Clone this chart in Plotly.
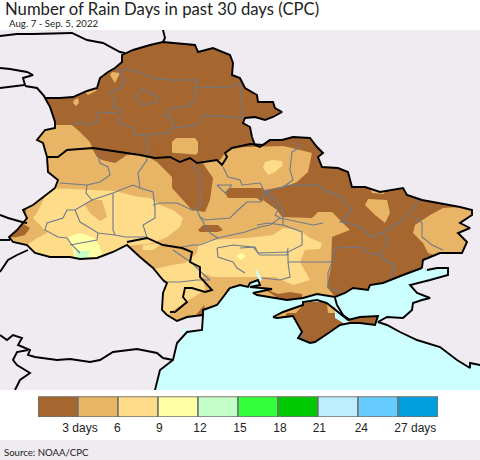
import plotly.graph_objects as go

TITLE = "Number of Rain Days in past 30 days (CPC)"
SUBTITLE = "Aug. 7 - Sep. 5, 2022"
SOURCE = "Source: NOAA/CPC"

# legend classes
class_starts = [0, 3, 6, 9, 12, 15, 18, 21, 24, 27]
class_colors = ["#A5662F", "#E8B465", "#FFDC8A", "#FFFFA5", "#C4FFC9",
                "#30FF3A", "#00C800", "#BDEEFF", "#66CCFF", "#009FE0"]
tick_days = [3.15, 5.95, 9.1, 12.15, 15.15, 18.15, 21.1, 24.25, 28.3]
tick_labels = ["3 days", "6", "9", "12", "15", "18", "21", "24", "27 days"]

LAND = "#EFEBF0"
SEA = "#CCFFFF"
BORDER = "#000000"
OBLAST = "#6E7B8B"

# geography, in map-grid units
romania_coast = [(155,390),(157,383),(160,370),(173,360),(177,343),(187,332),(202,330),(203,315)]
ukraine_coast = [(203,310),(217,305),(225,295),(230,288),(240,285),(248,287),(250,283),(258,280),(260,285),
                 (250,287),(272,289),(253,293),(257,295),(273,298),(287,300),(303,298),(317,294),(335,297),
                 (345,293),(353,288),(368,290),(370,285),(383,283),(403,275),(422,268)]
russia_coast = [(427,270),(437,268),(448,268),(448,275),(430,280),(410,285),(417,293),(430,298),(422,300),
                (413,303),(412,310),(403,318),(387,317),(378,322),(387,325),(400,332),(417,340),(440,347),
                (457,360),(470,368),(470,363),(480,365)]
land_border = [(203,315),(187,317),(177,321),(167,315),(162,310),(163,293),(167,283),(163,280),(153,268),(140,257),
               (127,245),(113,252),(97,258),(80,259),(70,257),(50,257),(35,253),(27,245),(13,242),(9,237),(17,230),
               (27,218),(23,210),(33,205),(55,188),(58,180),(48,172),(47,157),(43,143),(37,140),(45,130),(55,128),
               (55,122),(50,107),(45,98),(60,98),(73,97),(87,91),(97,88),(100,78),(108,72),(115,68),(122,62),
               (122,55),(133,50),(150,45),(163,42),(177,43),(195,45),(198,52),(213,48),(230,55),(233,63),(232,75),
               (240,78),(245,88),(257,95),(258,102),(273,102),(275,108),(282,112),(273,117),(265,120),(255,117),
               (245,118),(243,123),(250,127),(252,137),(255,145),(260,147),(270,140),(282,140),(293,137),(310,138),
               (317,147),(323,153),(318,157),(322,167),(338,168),(348,172),(352,187),(365,187),(380,192),(403,188),
               (407,195),(422,200),(440,203),(460,207),(472,210),(472,215),(460,223),(470,228),(458,233),(467,242),
               (462,253),(440,253),(423,260),(422,268)]
crimea = [(273,317),(283,312),(303,305),(303,302),(317,300),(327,303),(338,312),(348,320),(360,317),(378,316),
          (375,325),(360,323),(350,323),(340,325),(330,332),(315,342),(310,343),(298,338),(302,332),(296,322),
          (293,316),(277,318)]
arabat = [(335,298),(337,305),(343,315),(350,320)]

inner_black = [
    [(47,157),(58,157),(67,150),(93,148),(113,151),(140,155),(155,158),(170,157),(180,162),(190,158),(197,163),
     (217,160),(222,165),(227,157),(225,153),(232,148),(250,144),(263,145),(270,140)],
    [(127,242),(147,238),(163,245),(182,248),(192,252),(190,262),(200,267),(200,277),(212,290),(205,292),
     (192,288),(185,288),(183,297),(187,302),(175,312),(170,312)],
]
outer_black = [
    [(0,36),(17,34),(33,34),(57,33),(72,33),(87,40),(103,43),(120,52),(125,53)],
    [(163,30),(165,38),(163,42)],
    [(0,68),(10,69),(27,72),(33,75),(23,78),(25,85),(0,88)],
    [(25,86),(37,88),(45,97)],
    [(0,215),(8,218),(22,222),(27,223)],
    [(0,240),(10,240)],
    [(28,250),(17,255),(8,260),(0,272)],
    [(0,335),(7,340),(13,335),(22,338),(18,345),(30,350),(28,355),(35,357),(57,360),(70,359),(90,362),(100,360),
     (113,352),(137,349),(157,353),(163,358),(173,360)],
    [(28,350),(17,352),(13,360),(17,365),(30,373),(20,380),(15,390)],
]

oblast_lines = [
    [(117,70),(133,70),(153,78),(167,80),(197,80),(195,88),(213,87),(230,87),(240,83),(243,118)],
    [(117,70),(125,80),(120,88),(110,93),(115,100),(113,107),(122,110),(118,123),(133,128),(135,135),(143,135),
     (148,143),(147,155),(147,160),(138,173),(140,188)],
    [(98,112),(117,113)],
    [(98,112),(97,122),(90,125),(80,122),(72,125)],
    [(143,135),(167,133),(173,128),(197,125),(203,115),(227,117),(243,118)],
    [(135,98),(143,89),(150,93),(157,97),(157,102),(143,105),(135,98)],
    [(195,88),(195,100),(187,107),(170,108),(168,115),(162,115)],
    [(168,115),(173,122),(173,128)],
    [(98,155),(100,163),(108,167),(110,175),(100,182),(87,185),(60,183)],
    [(87,185),(86,193),(92,200),(75,210),(67,210),(63,218),(47,223),(45,230),(58,237),(67,238),(72,245),(80,253)],
    [(92,200),(113,193),(133,185),(140,188),(153,192),(155,207),(155,218),(143,225),(147,237)],
    [(113,193),(113,230),(115,235)],
    [(75,210),(80,222),(90,228),(98,233),(115,235),(125,237),(147,237)],
    [(98,233),(97,240),(70,245)],
    [(153,205),(160,203),(177,203),(192,210),(197,210),(202,202),(200,190),(200,173),(193,165)],
    [(197,210),(200,217),(205,220),(230,218),(238,210),(247,202),(260,202),(265,192)],
    [(200,217),(210,233),(218,238),(200,245),(193,245),(182,247)],
    [(218,238),(245,232),(260,227),(270,225),(280,218),(290,220),(313,225),(323,223)],
    [(280,218),(275,215),(278,210),(265,192)],
    [(265,192),(290,185),(317,185),(330,193)],
    [(223,167),(228,177),(240,180),(242,185),(260,183),(265,192)],
    [(298,142),(300,147),(292,152),(290,170),(293,180),(283,187)],
    [(217,185),(232,185),(225,193),(217,185)],
    [(265,190),(277,200),(283,212),(283,225),(268,223),(257,225)],
    [(325,190),(340,197),(352,210),(340,222),(357,225),(372,237),(383,232),(403,220),(415,207),(417,200)],
    [(283,225),(302,232),(302,245),(288,252),(288,262),(290,277),(280,280),(262,278)],
    [(288,252),(258,253),(255,247),(240,248)],
    [(288,262),(332,262),(335,248),(360,247),(368,253),(380,255),(387,262),(395,265),(390,277)],
    [(332,262),(328,273),(328,287),(340,292)],
    [(383,232),(388,243),(380,255)],
    [(415,217),(422,223),(422,237),(432,245),(443,250)],
    [(217,248),(218,257),(233,262),(237,268),(245,273)],
    [(217,248),(233,245),(253,247),(260,255),(287,255),(288,248)],
    [(173,250),(192,263),(202,273),(210,280)],
    [(163,282),(180,282),(197,280),(210,280)],
    [(303,333),(301,338),(306,340)],
]

tan_areas = [
    [(30,120),(55,125),(72,125),(80,132),(90,142),(93,150),(97,157),(102,160),(115,163),(127,155),(140,155),
     (150,158),(200,161),(220,160),(225,153),(232,148),(247,147),(283,146),(292,148),(312,153),(308,172),
     (297,182),(290,185),(265,190),(263,200),(277,210),(282,217),(312,218),(318,212),(332,212),(350,230),
     (332,237),(331,267),(327,287),(335,297),(345,305),(340,330),(100,335),(0,270),(0,200)],
    [(112,72),(120,73),(115,83),(110,75)],
    [(74,100),(78,98),(79,103),(76,106),(73,103)],
    [(85,92),(97,87),(96,91),(88,95)],
    [(172,142),(176,138),(195,138),(198,142),(198,152),(195,157),(175,158),(172,152)],
    [(365,205),(368,199),(387,200),(390,213),(385,223),(375,215)],
    [(443,208),(430,215),(415,225),(413,233),(423,243),(428,253),(443,258),(490,258),(490,205)],
    [(370,189),(385,189),(384,194),(372,193)],
]
light_areas = [
    [(48,188),(87,190),(115,191),(138,197),(150,198),(160,205),(173,210),(183,218),(180,227),(167,237),(153,243),
     (127,246),(113,260),(25,262),(27,245),(37,238),(47,233),(45,230),(33,218),(37,213),(45,197)],
    [(198,245),(210,240),(247,238),(273,235),(283,228),(300,230),(310,238),(322,243),(320,249),(305,250),(300,262),
     (310,280),(293,285),(275,277),(257,277),(240,277),(213,277),(202,273),(205,290),(173,310),(165,318),(150,320),
     (140,290),(150,270),(172,265),(185,263),(197,253)],
    [(263,168),(265,162),(272,160),(282,161),(283,165),(275,172),(268,175)],
    [(143,245),(163,243),(153,250),(143,250)],
]
pale_areas = [
    [(68,237),(80,233),(95,238),(100,247),(105,262),(75,262),(73,250)],
    [(236,256),(241,253),(246,256),(241,260)],
]
green_areas = [[(75,248),(80,251),(90,251),(85,262),(78,262)]]
tan_over = [[(85,205),(93,200),(102,200),(107,217),(100,221),(90,213)]]
brown_over = [
    [(140,150),(150,158),(157,162),(172,177),(172,188),(183,200),(192,210),(205,212),(210,200),(213,178),(202,162),
     (200,155)],
    [(230,188),(262,188),(266,192),(262,202),(257,198),(228,198),(225,193)],
    [(198,230),(203,225),(218,225),(223,230),(218,232),(200,232)],
    [(15,232),(22,223),(30,228),(25,235),(17,237),(5,238)],
    [(20,208),(27,207),(25,215),(20,216)],
    [(262,288),(275,296),(277,300),(302,302),(302,294),(290,292),(278,294),(270,291)],
    [(222,298),(228,288),(235,286),(228,296)],
    [(196,315),(204,305),(207,318),(200,318)],
]
crimea_tan = [
    [(273,317),(283,312),(303,305),(296,313),(287,313),(285,316),(277,318)],
    [(327,305),(335,307),(340,315),(335,313),(328,313)],
]
cyan_areas = [
    [(303,298),(316,294),(322,298),(335,297),(338,303),(330,306),(325,302),(310,302),(303,303)],
    [(335,310),(345,318),(350,321),(345,324),(335,318)],
    [(255,269),(258,272),(262,280),(259,282)],
    [(181,333),(186,327),(188,331),(184,335)],
]


def chain(paths):
    xs, ys = [], []
    for path in paths:
        xs += [p[0] for p in path] + [None]
        ys += [p[1] for p in path] + [None]
    return xs, ys


fig = go.Figure()


def area(paths, color):
    xs, ys = chain(paths)
    fig.add_trace(go.Scatter(x=xs, y=ys, mode="lines", fill="toself", fillcolor=color,
                             line=dict(width=0, color=color), hoverinfo="skip", showlegend=False))


def lines(paths, color, width):
    xs, ys = chain(paths)
    fig.add_trace(go.Scatter(x=xs, y=ys, mode="lines", line=dict(width=width, color=color),
                             hoverinfo="skip", showlegend=False))


# rain-day classes, painted in order over a 3-day background
area(tan_areas, class_colors[1])
area(light_areas, class_colors[2])
area(pale_areas, class_colors[3])
area(green_areas, class_colors[4])
area(tan_over, class_colors[1])
area(brown_over, class_colors[0])

# surroundings
corners_land = [(0,30),(480,30)]
corners_sea = [(480,390)]
land_shape = corners_land + russia_coast[::-1] + land_border[::-1] + romania_coast[::-1] + [(0,390)]
sea_shape = romania_coast + ukraine_coast + russia_coast + corners_sea
area([land_shape], LAND)
area([sea_shape], SEA)

# Crimea
area([crimea], class_colors[0])
area(crimea_tan, class_colors[1])
area(cyan_areas, SEA)

lines(oblast_lines, OBLAST, 1.1)
lines(outer_black + inner_black + [land_border], BORDER, 1.9)
lines([romania_coast + ukraine_coast, russia_coast, crimea + crimea[:1], arabat], BORDER, 1.9)

# legend bar
fig.add_trace(go.Bar(x=[d + 1.5 for d in class_starts], y=[1] * len(class_starts), width=3,
                     marker=dict(color=class_colors, line=dict(color="#707070", width=1.5)),
                     xaxis="x2", yaxis="y2", hoverinfo="skip", showlegend=False))

fig.update_layout(
    width=480, height=460, margin=dict(l=0, r=0, t=0, b=0), autosize=False,
    paper_bgcolor="#FFFFFF", plot_bgcolor=class_colors[0], showlegend=False,
    xaxis=dict(domain=[0, 1], range=[0, 480], visible=False, fixedrange=True),
    yaxis=dict(domain=[70 / 460, 430 / 460], range=[390, 30], visible=False, fixedrange=True),
    xaxis2=dict(domain=[38 / 480, 438 / 480], range=[0, 30], anchor="y2", fixedrange=True,
                tickmode="array", tickvals=tick_days, ticktext=tick_labels, ticks="", showgrid=False,
                zeroline=False, showline=False, ticklabelstandoff=2,
                tickfont=dict(family="Liberation Sans", size=12, color="#222222")),
    yaxis2=dict(domain=[43 / 460, 63.5 / 460], range=[0, 1], anchor="x2", visible=False, fixedrange=True),
    shapes=[dict(type="rect", xref="paper", yref="paper", x0=0, x1=1, y0=0, y1=20 / 460,
                 fillcolor=LAND, line=dict(width=0), layer="below")],
    annotations=[
        dict(text=TITLE, xref="paper", yref="paper", x=3 / 480, y=1 - 9 / 460, xanchor="left", yanchor="middle",
             showarrow=False, font=dict(family="Lato", size=16.7, color="#222222")),
        dict(text=SUBTITLE, xref="paper", yref="paper", x=7 / 480, y=1 - 23.5 / 460, xanchor="left", yanchor="middle",
             showarrow=False, font=dict(family="Lato", size=9.7, color="#222222")),
        dict(text=SOURCE, xref="paper", yref="paper", x=2 / 480, y=8 / 460, xanchor="left", yanchor="middle",
             showarrow=False, font=dict(family="Lato", size=9.6, color="#222222")),
    ],
)

fig.write_html("out.html", config=dict(displayModeBar=False),
               post_script="document.body.style.margin='0';document.documentElement.style.margin='0';")
